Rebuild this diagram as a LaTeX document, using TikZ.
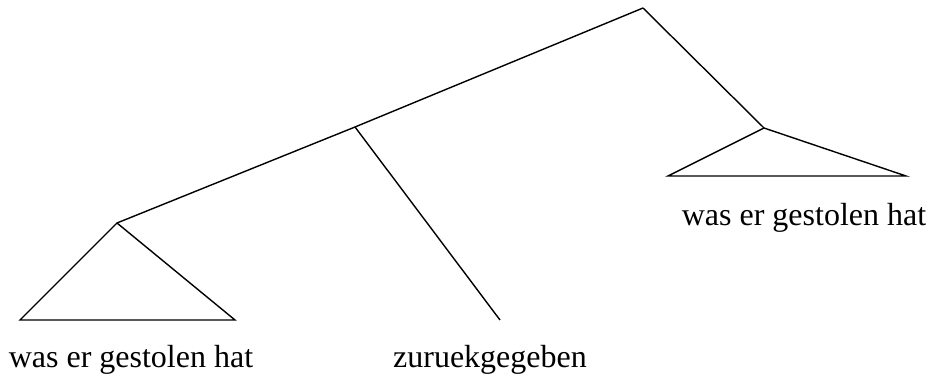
\documentclass[tikz,border=0pt]{standalone}
\usepackage{fontspec}
\setmainfont{Liberation Serif}
\begin{document}
\begin{tikzpicture}[x=1pt,y=-1pt,line width=1.4pt,
  lbl/.style={font=\fontsize{32}{36}\selectfont,inner sep=0pt,anchor=base}]
\useasboundingbox (0,0) rectangle (928,377);
\coordinate (root) at (643,8);
\coordinate (vp) at (355,127);
\coordinate (la) at (117,223);
\coordinate (ll) at (20,320);
\coordinate (lr) at (235,320);
\coordinate (mid) at (500,320);
\coordinate (ra) at (764,128);
\coordinate (rl) at (668,176);
\coordinate (rr) at (906,176);
\draw (root) -- (vp) -- (la);
\draw (root) -- (ra);
\draw (vp) -- (mid);
\draw (la) -- (ll) -- (lr) -- cycle;
\draw (ra) -- (rl) -- (rr) -- cycle;
\node[lbl] (t1) at (131,367) {was er gestolen hat};
\node[lbl] (t2) at (490,367) {zuruekgegeben};
\node[lbl] (t3) at (804,225) {was er gestolen hat};
\end{tikzpicture}
\end{document}
